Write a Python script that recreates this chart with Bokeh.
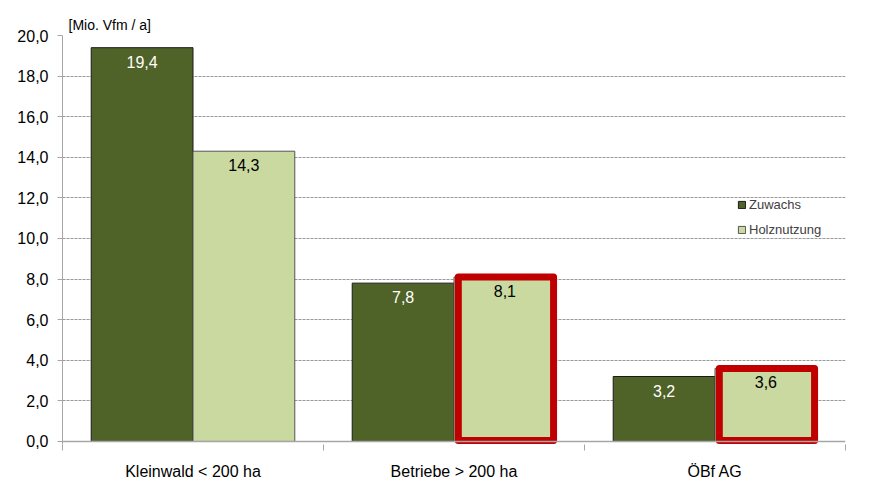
from bokeh.plotting import figure
from bokeh.models import (Range1d, FixedTicker, CustomJSTickFormatter,
                          Legend, LegendItem, Span, ColumnDataSource)
from bokeh.transform import dodge
from bokeh.core.properties import value
from bokeh.embed import file_html
from bokeh.resources import INLINE

# ---- data ----
categories = ["Kleinwald < 200 ha", "Betriebe > 200 ha", "ÖBf AG"]
zuwachs = [19.4, 7.8, 3.2]
holznutzung = [14.3, 8.1, 3.6]
highlight_holz = [False, True, True]
series_names = ["Zuwachs", "Holznutzung"]
y_ticks = [0, 2, 4, 6, 8, 10, 12, 14, 16, 18, 20]
unit_label = "[Mio. Vfm / a]"

FONT = "Liberation Sans"
DARK = "#4F6228"
LIGHT = "#C9D9A0"
RED = "#C00000"

def fmt(v):
    return f"{v:.1f}".replace(".", ",")

n = len(categories)
centers = [i + 0.5 for i in range(n)]   # category slot centres on a 0..n axis

src = ColumnDataSource(dict(
    xc=centers,
    zuw=zuwachs,
    holz=holznutzung,
    zuw_lbl=[fmt(v) for v in zuwachs],
    holz_lbl=[fmt(v) for v in holznutzung],
))
hl_x = [c for c, h in zip(centers, highlight_holz) if h]
hl_vals = [v for v, h in zip(holznutzung, highlight_holz) if h]
hl_src = ColumnDataSource(dict(xc=hl_x, top=hl_vals))

p = figure(frame_width=783, frame_height=409, output_backend="svg", toolbar_location=None,
           x_range=Range1d(0, n), y_range=Range1d(-0.15, 20), title=unit_label)
p.min_border_left = 62
p.min_border_right = 19
p.min_border_top = 35
p.min_border_bottom = 20
p.outline_line_color = None
p.background_fill_color = "white"
p.border_fill_color = "white"

p.title.text_font = FONT
p.title.text_font_size = "14px"
p.title.text_font_style = "normal"
p.title.text_color = "black"
p.title.align = "left"
p.title.offset = 6
p.title.standoff = 6

W = 0.39
OFF = 0.195
r1 = p.vbar(x=dodge("xc", -OFF), top="zuw", bottom=0, width=W,
            source=src, fill_color=DARK, line_color="#1a1a1a", line_width=1)
r2 = p.vbar(x=dodge("xc", OFF), top="holz", bottom=0, width=W,
            source=src, fill_color=LIGHT, line_color="#555555", line_width=1)

# red highlight frames
p.vbar(x=dodge("xc", OFF + 0.004), top="top", bottom=0.05, width=W - 0.025,
       source=hl_src, fill_color=None, line_color=RED, line_width=7, line_join="round")

# value labels
p.text(x=dodge("xc", -OFF), y="zuw", text="zuw_lbl", source=src,
       text_color="white", text_align="center", text_baseline="top", y_offset=8,
       text_font=value(FONT), text_font_size="16px")
p.text(x=dodge("xc", OFF), y="holz", text="holz_lbl", source=src,
       text_color="black", text_align="center", text_baseline="top", y_offset=8,
       text_font=value(FONT), text_font_size="16px")

# zero line
p.add_layout(Span(location=0, dimension="width", line_color="#a6a6a6", line_width=1.5))

# axes
yax = p.yaxis[0]
yax.ticker = FixedTicker(ticks=y_ticks)
yax.formatter = CustomJSTickFormatter(code="return tick.toFixed(1).replace('.', ',');")
yax.axis_line_color = "#a6a6a6"
yax.major_tick_line_color = "#a6a6a6"
yax.major_tick_out = 5
yax.major_tick_in = 0
yax.minor_tick_line_color = None
yax.major_label_standoff = 9
yax.major_label_text_font = FONT
yax.major_label_text_font_size = "16px"
yax.major_label_text_color = "black"

xax = p.xaxis[0]
xax.ticker = FixedTicker(ticks=centers, minor_ticks=list(range(n + 1)))
xax.formatter = CustomJSTickFormatter(args=dict(cats=categories),
                                      code="return cats[Math.floor(tick)];")
xax.axis_line_color = None
xax.major_tick_line_color = None
xax.minor_tick_line_color = "#a6a6a6"
xax.minor_tick_out = 6
xax.minor_tick_in = 0
xax.major_label_standoff = 12
xax.major_label_text_font = FONT
xax.major_label_text_font_size = "16px"
xax.major_label_text_color = "black"

p.xgrid.grid_line_color = None
p.ygrid.ticker = FixedTicker(ticks=y_ticks[1:])
p.ygrid.grid_line_color = "#999999"
p.ygrid.grid_line_dash = "3 1"
p.ygrid.grid_line_width = 1

legend = Legend(items=[LegendItem(label=series_names[0], renderers=[r1]),
                       LegendItem(label=series_names[1], renderers=[r2])],
                location=(675, 206))
legend.glyph_width = 9
legend.glyph_height = 9
legend.label_height = 17
legend.label_standoff = 3
legend.spacing = 8
legend.padding = 0
legend.margin = 0
legend.border_line_alpha = 0
legend.background_fill_alpha = 0
legend.label_text_font = FONT
legend.label_text_font_size = "13px"
legend.label_text_color = "#404040"
p.add_layout(legend)

open("out.html", "w").write(file_html(p, INLINE))
